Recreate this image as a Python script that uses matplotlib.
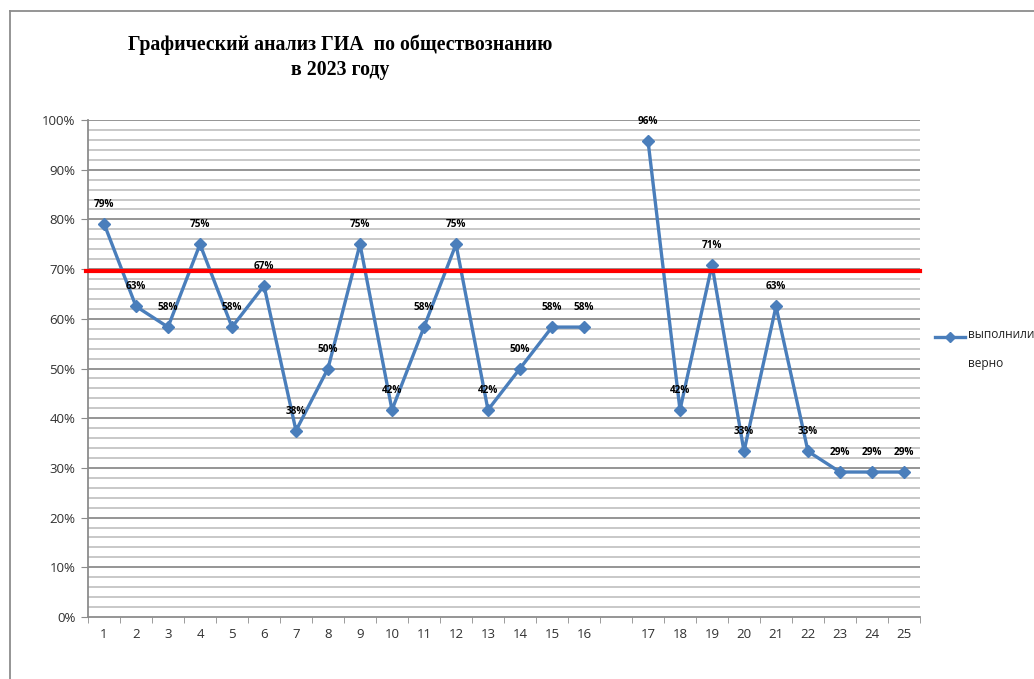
import numpy as np
import matplotlib.pyplot as plt
from matplotlib.lines import Line2D

# данные: номера заданий (пустая позиция между 16 и 17)
zadaniya = ['1', '2', '3', '4', '5', '6', '7', '8', '9', '10', '11', '12', '13',
            '14', '15', '16', '', '17', '18', '19', '20', '21', '22', '23', '24', '25']
procent = [79.17, 62.5, 58.33, 75, 58.33, 66.67, 37.5, 50, 75, 41.67, 58.33, 75, 41.67,
           50, 58.33, 58.33, np.nan, 95.83, 41.67, 70.83, 33.33, 62.5, 33.33, 29.17, 29.17, 29.17]
porog = 69.6
nazvanie = 'Графический анализ ГИА  по обществознанию\nв 2023 году'
legenda = 'выполнили\nверно'

sinij = '#4A7EBB'

fig = plt.figure(figsize=(10.34, 6.79), dpi=100)
ax = fig.add_axes([88 / 1034, 1 - 617 / 679, 832 / 1034, 497 / 679])

x = np.arange(len(zadaniya))
y = np.array(procent, dtype=float)

# сетка через 2%, основные линии через 10%
for v in range(2, 101, 2):
    if v % 10 == 0:
        ax.axhline(v, color='#8c8c8c', lw=1.3, zorder=1)
    else:
        ax.axhline(v, color='#c4c4c4', lw=1.3, zorder=1)

ax.plot(x, y, color=sinij, lw=2.4, marker='D', markersize=6.5, zorder=3)

for xi, yi in zip(x, y):
    if np.isnan(yi):
        continue
    ax.annotate('%d%%' % int(yi + 0.5), (xi, yi), xytext=(0, 10), textcoords='offset points',
                ha='center', va='bottom', fontsize=7.2, fontweight='bold',
                family='Open Sans', color='black', zorder=4)

# красная линия порога
ax.axhline(porog, xmin=-0.003, color='#ff0000', lw=3, zorder=5, clip_on=False)

ax.set_xlim(-0.5, len(zadaniya) - 0.5)
ax.set_ylim(0, 100)
ax.set_xticks(x)
ax.set_xticklabels(zadaniya)
ax.set_xticks(np.arange(-0.5, len(zadaniya), 1), minor=True)
ax.set_yticks(range(0, 101, 10))
ax.set_yticklabels(['%d%%' % v for v in range(0, 101, 10)])

ax.tick_params(axis='x', which='major', length=0, pad=8, labelsize=9.5, labelcolor='#303030')
ax.tick_params(axis='x', which='minor', length=4, color='#8c8c8c', direction='out')
ax.tick_params(axis='y', length=5, color='#8c8c8c', labelsize=9.5, labelcolor='#303030', pad=4)
for lab in ax.get_xticklabels() + ax.get_yticklabels():
    lab.set_family('Open Sans')

for s in ['top', 'right']:
    ax.spines[s].set_visible(False)
ax.spines['left'].set_color('#8c8c8c')
ax.spines['bottom'].set_color('#8c8c8c')
ax.spines['left'].set_linewidth(1.3)
ax.spines['bottom'].set_linewidth(1.3)

# заголовок
fig.text(340 / 1034, 1 - 57 / 679, nazvanie, ha='center', va='center', fontsize=14.3,
         fontweight='bold', family='Liberation Serif', linespacing=1.3)

# легенда
yl = 1 - 337 / 679
fig.add_artist(Line2D([935 / 1034, 965 / 1034], [yl, yl], color=sinij, lw=2.4))
fig.add_artist(Line2D([950 / 1034], [yl], color=sinij, marker='D', markersize=5.5, lw=0))
fig.text(968 / 1034, 1 - 328 / 679, legenda, ha='left', va='top', fontsize=8.6,
         family='Open Sans', color='#202020', linespacing=2.55)

# рамка
fig.add_artist(Line2D([10 / 1034, 10 / 1034], [0, 1 - 11 / 679], color='#8c8c8c', lw=1.3))
fig.add_artist(Line2D([10 / 1034, 1], [1 - 11 / 679, 1 - 11 / 679], color='#8c8c8c', lw=1.3))

fig.savefig('out.png', dpi=100)
